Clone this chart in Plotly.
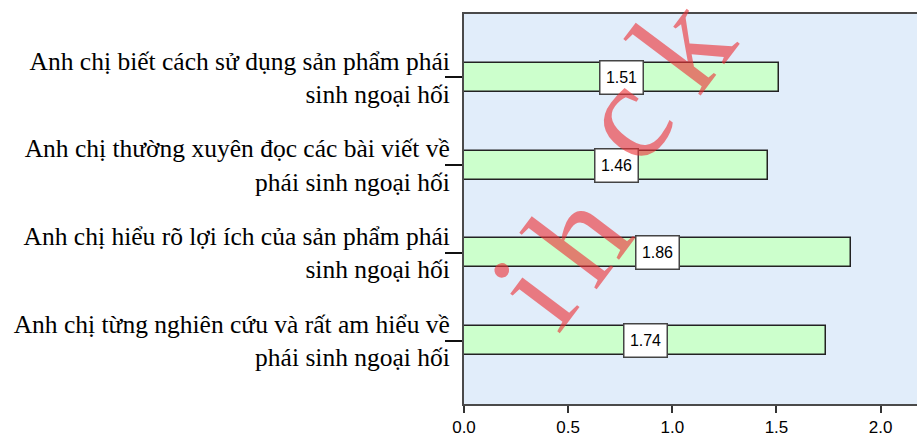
import plotly.graph_objects as go

# Survey items (top to bottom) and their mean scores
items = [
    "Anh chị biết cách sử dụng sản phẩm phái<br>sinh ngoại hối",
    "Anh chị thường xuyên đọc các bài viết về<br>phái sinh ngoại hối",
    "Anh chị hiểu rõ lợi ích của sản phẩm phái<br>sinh ngoại hối",
    "Anh chị từng nghiên cứu và rất am hiểu về<br>phái sinh ngoại hối",
]
means = [1.51, 1.46, 1.86, 1.74]
x_ticks = [0.0, 0.5, 1.0, 1.5, 2.0]
x_tick_labels = ["0.0", "0.5", "1.0", "1.5", "2.0"]

# Watermark letters
wm_letters = ["i", "h", "c", "k"]

W, H = 917, 436
ML, MT, MB = 464, 14, 32
plot_w = W - ML
plot_h = H - MT - MB

positions = list(range(len(items)))

fig = go.Figure()
fig.add_trace(go.Bar(
    x=means,
    y=positions,
    orientation="h",
    width=0.33,
    marker=dict(color="#ccffcc", line=dict(color="#222222", width=1.5)),
    hoverinfo="skip",
))

# Value boxes in the middle of each bar
for p, v in zip(positions, means):
    fig.add_annotation(
        x=v / 2, y=p, xref="x", yref="y",
        text=f"{v:.2f}", showarrow=False,
        width=32, height=22,
        font=dict(family="Liberation Sans", size=16, color="black"),
        bgcolor="white", bordercolor="#444444", borderwidth=1.5, borderpad=5,
    )

# Diagonal watermark, one letter per annotation
wm_px = [(532, 292), (578, 236), (622, 118), (682, 44)]
for ch, (px, py) in zip(wm_letters, wm_px):
    fig.add_annotation(
        x=(px - ML) / plot_w, y=(H - MB - py) / plot_h,
        xref="paper", yref="paper",
        text=ch, showarrow=False, textangle=-53,
        xanchor="center", yanchor="middle",
        font=dict(family="Liberation Serif", size=138, color="rgba(236,50,55,0.62)"),
    )

fig.update_layout(
    width=W, height=H,
    margin=dict(l=ML, r=0, t=MT, b=MB, pad=0),
    paper_bgcolor="white",
    plot_bgcolor="#e1edfa",
    showlegend=False,
    bargap=0,
    xaxis=dict(
        range=[0, plot_w / 208.3],
        tickvals=x_ticks, ticktext=x_tick_labels,
        showgrid=False, zeroline=False,
        showline=True, linecolor="#4a4a4a", linewidth=2, mirror=True,
        ticks="outside", ticklen=7, tickwidth=2, tickcolor="#333333",
        tickfont=dict(family="Liberation Sans", size=17, color="black"),
    ),
    yaxis=dict(
        range=[3.72, -0.72],
        tickvals=positions, ticktext=items,
        showgrid=False, zeroline=False,
        showline=True, linecolor="#4a4a4a", linewidth=2,
        ticks="outside", ticklen=17, tickwidth=1.5, tickcolor="#111111",
        ticklabelstandoff=-10,
        tickfont=dict(family="Liberation Serif", size=25.5, color="black"),
    ),
)

fig.write_html("out.html")
